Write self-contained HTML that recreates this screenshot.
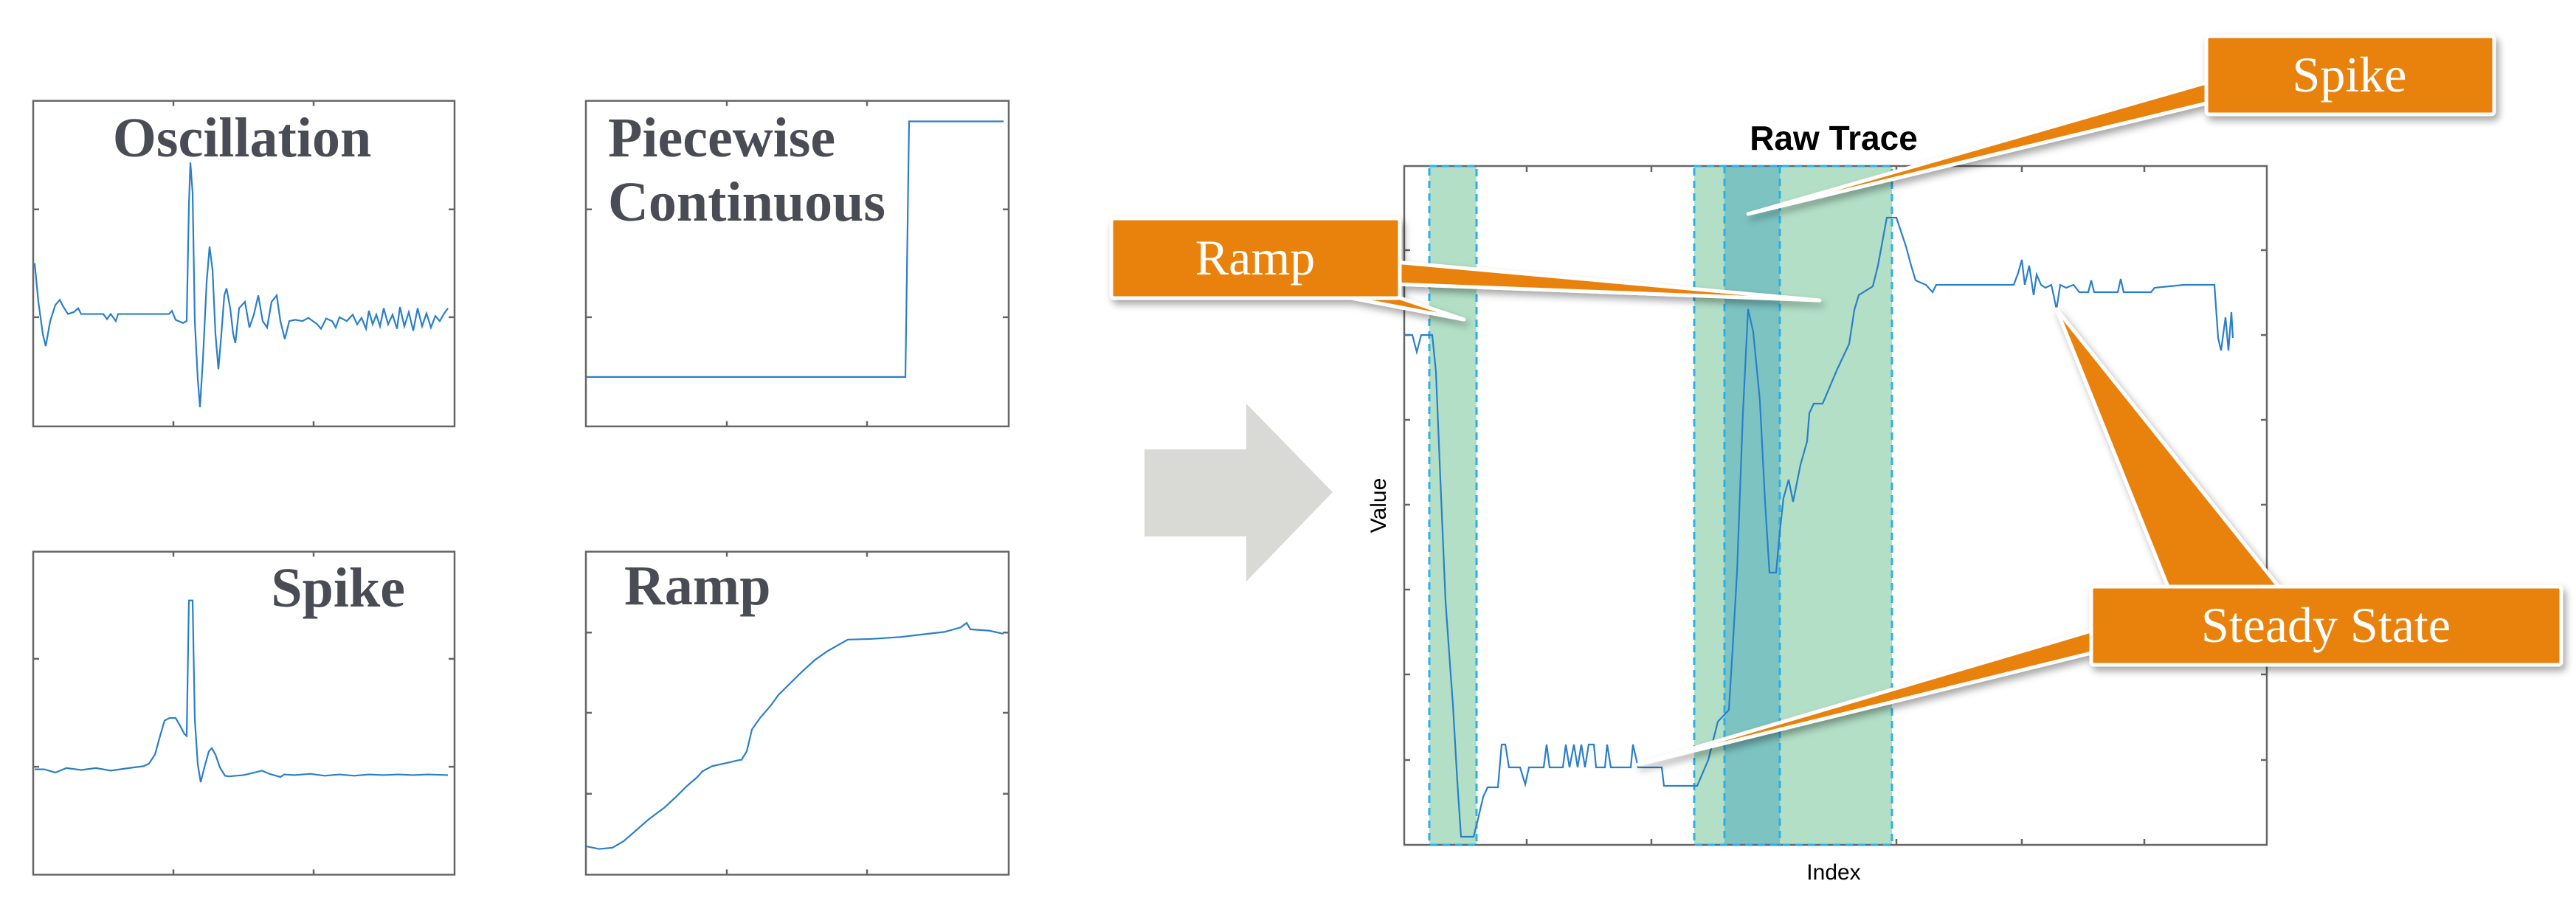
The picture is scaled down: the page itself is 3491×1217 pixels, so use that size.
<!DOCTYPE html>
<html><head><meta charset="utf-8"><style>
html,body{margin:0;padding:0;background:#fff;overflow:hidden;}
svg{display:block;}
</style></head><body>
<svg width="3491" height="1217" viewBox="0 0 3491 1217" xmlns="http://www.w3.org/2000/svg">
<defs>
<filter id="sh" x="-10%" y="-10%" width="130%" height="140%"><feDropShadow dx="4" dy="6" stdDeviation="5" flood-color="#000" flood-opacity="0.35"/></filter>
</defs>
<g transform="scale(1,0.8703)">
<g fill="none" stroke="#666" stroke-width="2.5" vector-effect="non-scaling-stroke">
<rect x="45" y="157" width="571" height="507" vector-effect="non-scaling-stroke"/>
<rect x="794" y="157" width="573" height="507" vector-effect="non-scaling-stroke"/>
<rect x="45" y="859" width="571" height="503" vector-effect="non-scaling-stroke"/>
<rect x="794" y="859" width="573" height="503" vector-effect="non-scaling-stroke"/>
<path vector-effect="non-scaling-stroke" d="M235 157v8M425 157v8M235 664v-8M425 664v-8M45 326h8M45 494h8M616 326h-8M616 494h-8
M985 157v8M1175 157v8M985 664v-8M1175 664v-8M794 326h8M794 494h8M1367 326h-8M1367 494h-8
M235 859v8M425 859v8M235 1362v-8M425 1362v-8M45 1026h8M45 1194h8M616 1026h-8M616 1194h-8
M985 859v8M1175 859v8M985 1362v-8M1175 1362v-8M794 985h8M794 1110h8M794 1236h8M1367 985h-8M1367 1110h-8M1367 1236h-8"/>
</g>
<g fill="none" stroke="#2a7fc9" stroke-width="2.2">
<polyline vector-effect="non-scaling-stroke" points="47,410 52,470 58,520 62,539 68,500 75,475 81,467 86,478 92,489 100,486 106,480 110,489 140,489 145,497 150,489 157,500 160,489 229,489 233,484 238,498 248,503 253,500 256,320 258,253 261,300 264,500 268,590 271,634 275,560 280,440 284,384 288,420 292,520 296,575 300,520 304,460 307,449 312,480 316,520 319,534 324,480 332,470 338,510 344,490 350,460 356,500 362,510 368,470 375,460 380,500 386,528 392,500 400,498 410,500 418,495 430,505 435,512 442,496 450,500 455,510 460,494 470,500 478,490 484,505 490,495 496,512 500,484 505,505 510,490 515,508 520,480 526,505 532,490 538,512 542,478 548,508 554,486 560,515 566,480 572,508 578,488 584,510 590,492 596,500 602,488 607,480"/>
<polyline vector-effect="non-scaling-stroke" points="795,587 1227,587 1232,189 1360,189"/>
<polyline vector-effect="non-scaling-stroke" points="47,1198 60,1198 75,1203 90,1196 110,1199 130,1196 150,1200 175,1196 195,1193 202,1189 210,1175 216,1150 223,1122 230,1118 238,1118 244,1130 250,1143 253,1146 256,935 261,935 264,1120 268,1190 272,1218 277,1195 283,1170 287,1165 292,1175 298,1195 305,1208 310,1209 330,1207 345,1203 355,1200 365,1205 380,1210 385,1206 400,1207 420,1205 440,1208 460,1206 480,1208 500,1206 520,1207 540,1206 560,1207 580,1206 607,1207"/>
<polyline vector-effect="non-scaling-stroke" points="795,1318 812,1322 830,1320 845,1310 860,1295 880,1275 900,1258 916,1241 930,1225 945,1210 952,1201 965,1193 985,1188 1000,1184 1005,1183 1012,1170 1019,1136 1030,1118 1045,1098 1055,1082 1070,1065 1085,1048 1104,1028 1120,1015 1135,1005 1149,996 1180,995 1220,992 1257,987 1280,984 1302,977 1310,970 1315,980 1340,982 1360,987"/>
</g>
</g>
<g font-family="'Liberation Serif',serif" font-weight="bold" font-size="76" fill="#4a4c55">
<text x="328" y="212" text-anchor="middle">Oscillation</text>
<text x="824" y="212">Piecewise</text>
<text x="824" y="299">Continuous</text>
<text x="549" y="822" text-anchor="end">Spike</text>
<text x="846" y="819">Ramp</text>
</g>
<polygon points="1551,609 1689,609 1689,547 1806,667 1689,788 1689,727 1551,727" fill="#d9d9d6"/>
<rect x="1937" y="225" width="64" height="920" fill="#b2dfc6"/>
<rect x="2296" y="225" width="268" height="920" fill="#b2dfc6"/>
<rect x="2337" y="225" width="75" height="920" fill="#7cc3c1"/>
<g fill="none" stroke="#666" stroke-width="2.5">
<rect x="1903" y="225" width="1169" height="920"/>
<path d="M2069 225v8M2238 225v8M2570 225v8M2740 225v8M2906 225v8M2069 1145v-8M2238 1145v-8M2570 1145v-8M2740 1145v-8M2906 1145v-8
M3072 339h-8M3072 454h-8M3072 569h-8M3072 684h-8M3072 799h-8M3072 914h-8M3072 1030h-8M1903 339h8M1903 454h8M1903 569h8M1903 684h8M1903 799h8M1903 914h8M1903 1030h8"/>
</g>
<g fill="none" stroke="#2bb0e8" stroke-width="3" stroke-dasharray="10,7">
<rect x="1937" y="225" width="64" height="920"/>
<rect x="2296" y="225" width="268" height="920"/>
<path d="M2337 225V1145M2412 225V1145"/>
</g>
<polyline fill="none" stroke="#2a7fc9" stroke-width="2.2" points="1905,454 1914,454 1920,477 1926,454 1941,454 1946,504 1952,650 1959,815 1965,900 1969,955 1975,1060 1980,1134 1997,1134 2003,1110 2010,1080 2016,1067 2030,1067 2035,1009 2040,1009 2045,1040 2060,1040 2067,1063 2072,1040 2092,1040 2096,1009 2100,1040 2118,1040 2122,1009 2127,1040 2133,1009 2138,1040 2143,1009 2148,1040 2153,1009 2160,1009 2163,1040 2175,1040 2178,1009 2183,1040 2210,1040 2213,1009 2220,1040 2252,1040 2255,1065 2300,1065 2315,1030 2328,978 2343,962 2348,880 2354,776 2362,560 2369,419 2376,450 2385,543 2392,680 2398,776 2407,776 2412,720 2417,675 2424,650 2430,680 2440,630 2449,598 2452,560 2458,547 2470,547 2490,500 2506,466 2513,420 2519,400 2538,388 2545,360 2557,295 2570,295 2583,334 2590,360 2596,380 2610,386 2619,396 2624,386 2729,386 2735,370 2740,352 2744,386 2750,360 2756,400 2760,372 2766,386 2772,390 2780,386 2787,419 2792,386 2800,390 2810,386 2818,396 2830,396 2834,380 2838,396 2870,396 2874,378 2878,396 2915,396 2920,390 2960,386 3001,386 3006,458 3010,475 3016,430 3020,475 3024,423 3026,458"/>
<g font-family="'Liberation Sans',sans-serif" fill="#000">
<text x="2485" y="203" text-anchor="middle" font-weight="bold" font-size="46">Raw Trace</text>
<text x="2485" y="1192" text-anchor="middle" font-size="30">Index</text>
<text transform="translate(1878,685) rotate(-90)" text-anchor="middle" font-size="30">Value</text>
</g>
<g fill="#e8820c" stroke="#fff" stroke-width="5" stroke-linejoin="round" filter="url(#sh)">
<polygon points="2990,112 2990,140 2369,290"/>
<polygon points="1890,355 1890,385 2466,407"/>
<polygon points="1800,398 1880,398 1984,433"/>
<polygon points="2940,800 3092,800 2787,419"/>
<polygon points="2834,855 2834,885 2220,1036"/>
<rect x="2990" y="49" width="390" height="106" rx="4"/>
<rect x="1506" y="296" width="391" height="108" rx="4"/>
<rect x="2834" y="795" width="637" height="106" rx="4"/>
</g>
<g fill="#e8820c">
<rect x="2993" y="52" width="384" height="100"/>
<rect x="1509" y="299" width="385" height="102"/>
<rect x="2837" y="798" width="631" height="100"/>
</g>
<g font-family="'Liberation Serif',serif" font-size="68" fill="#fff" text-anchor="middle">
<text x="3184" y="124">Spike</text>
<text x="1701" y="372">Ramp</text>
<text x="3152" y="870">Steady State</text>
</g>
</svg>
</body></html>
